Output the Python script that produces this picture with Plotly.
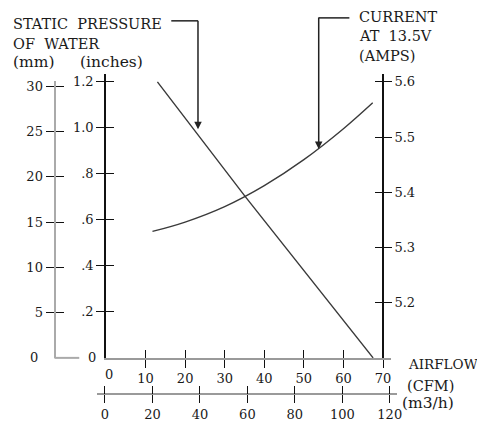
import plotly.graph_objects as go

# page body has an 8px default margin: the figure is drawn from (8, 8)
OFF = 8
WIN_W, WIN_H = 485, 422
W, H = WIN_W - OFF, WIN_H - OFF

# ---- data ----
cfm_ticks = [10, 20, 30, 40, 50, 60, 70]
m3h_ticks = [0, 20, 40, 60, 80, 100, 120]
inch_ticks = [0.2, 0.4, 0.6, 0.8, 1.0, 1.2]
inch_labels = [".2", ".4", ".6", ".8", "1.0", "1.2"]
mm_ticks = [5, 10, 15, 20, 25, 30]
amp_ticks = [5.2, 5.3, 5.4, 5.5, 5.6]

pressure_cfm = [13.0, 35.25, 67.5]
pressure_in = [1.2, 0.70, 0.0]

current_cfm = [11.75, 20.0, 30.0, 40.0, 50.0, 60.0, 67.4]
current_amps = [5.329, 5.346, 5.374, 5.412, 5.459, 5.515, 5.562]

FONT = "DejaVu Serif"
TXT = "#1a1a1a"
LINE = "#3a3a3a"


def fx(p):
    return (p - OFF) / W


def fy(p):
    return 1 - (p - OFF) / H


fig = go.Figure()

fig.add_trace(go.Scatter(x=pressure_cfm, y=pressure_in, mode="lines",
                         line=dict(color=LINE, width=1.4),
                         xaxis="x", yaxis="y", hoverinfo="skip", showlegend=False))
fig.add_trace(go.Scatter(x=current_cfm, y=current_amps, mode="lines",
                         line=dict(color=LINE, width=1.4, shape="spline",
                                   smoothing=1.0),
                         xaxis="x", yaxis="y3", hoverinfo="skip", showlegend=False))
# empty traces so the helper axes (inner tick arms) are drawn
for xa, ya in [("x2", "y2"), ("x2", "y4"), ("x3", "y5"), ("x4", "y6")]:
    fig.add_trace(go.Scatter(x=[], y=[], xaxis=xa, yaxis=ya, hoverinfo="skip",
                             showlegend=False))

tick_common = dict(showgrid=False, zeroline=False, fixedrange=True, ticklen=8,
                   tickwidth=1.3, tickcolor="#111111", tickmode="array",
                   tickfont=dict(family=FONT, size=13, color=TXT))

x_dom = [fx(107), fx(395)]
y_dom = [fy(361), fy(73)]
x_rng = [0, 72]
y_rng = [0, 1.234]
a_rng = [5.1, 5.614]
m3_dom = [fx(98), fx(401)]
m3_rng = [-3.34, 123.0]
mm_dom = [fy(361), fy(80)]
mm_rng = [0, 30.59]

layout = dict(
    width=W, height=H, margin=dict(l=0, r=0, t=0, b=0),
    paper_bgcolor="white", plot_bgcolor="rgba(0,0,0,0)", showlegend=False,
    xaxis=dict(tick_common, domain=x_dom, range=x_rng, anchor="y",
               tickvals=cfm_ticks, ticks="outside", showline=True,
               linecolor="#9a9a9a", linewidth=1.6),
    xaxis2=dict(tick_common, overlaying="x", range=x_rng, anchor="y",
                tickvals=cfm_ticks, ticks="inside", showticklabels=False,
                showline=False),
    xaxis3=dict(tick_common, domain=m3_dom, range=m3_rng, anchor="free",
                position=fy(398), tickvals=m3h_ticks, ticks="outside",
                showline=True, linecolor="#9a9a9a", linewidth=1.6),
    xaxis4=dict(tick_common, overlaying="x3", range=m3_rng, anchor="free",
                position=fy(398), tickvals=m3h_ticks, ticks="inside",
                showticklabels=False, showline=False),
    yaxis=dict(tick_common, domain=y_dom, range=y_rng, anchor="x",
               tickvals=inch_ticks, ticktext=inch_labels, ticks="outside",
               showline=True, linecolor="#111111", linewidth=1.5),
    yaxis2=dict(tick_common, overlaying="y", range=y_rng, anchor="x",
                tickvals=inch_ticks, ticks="inside", showticklabels=False,
                showline=False),
    yaxis3=dict(tick_common, overlaying="y", side="right", range=a_rng,
                anchor="free", position=fx(387), tickvals=amp_ticks,
                ticks="outside", showline=True, linecolor="#111111",
                linewidth=1.5),
    yaxis4=dict(tick_common, overlaying="y", side="right", range=a_rng,
                anchor="free", position=fx(387), tickvals=amp_ticks,
                ticks="inside", showticklabels=False, showline=False),
    yaxis5=dict(tick_common, domain=mm_dom, range=mm_rng, anchor="free",
                position=fx(55), side="left", tickvals=mm_ticks,
                ticks="outside", showline=True, linecolor="#aaaaaa",
                linewidth=2),
    yaxis6=dict(tick_common, overlaying="y5", range=mm_rng, anchor="free",
                position=fx(55), side="left", tickvals=mm_ticks,
                ticks="inside", showticklabels=False, showline=False),
)
fig.update_layout(**layout)

tf = dict(family=FONT, size=14.5, color=TXT)
lf = dict(family=FONT, size=15.5, color=TXT)
af = dict(family=FONT, size=13.5, color=TXT)
nf = dict(family=FONT, size=13, color=TXT)
NB = "\u00a0"


def label(text, x, y, font=tf, xanchor="left"):
    fig.add_annotation(text=text, x=fx(x), y=fy(y), xref="paper", yref="paper",
                       xanchor=xanchor, yanchor="middle", showarrow=False,
                       font=font, borderpad=0)


label("STATIC" + NB + " PRESSURE", 12, 22)
label("OF" + NB + " WATER", 12, 42)
label("(mm)", 12, 61, lf)
label("(inches)", 80, 61, lf)
label("CURRENT", 362, 15)
label("AT" + NB + " 13.5V", 362, 34)
label("(AMPS)", 362, 55)
label("AIRFLOW", 411, 367, af)
label("(CFM)", 410, 390)
label("(m3/h)", 405, 407, lf)
# corner zero labels
label("0", 98, 361, nf, "right")
label("0", 39, 361, nf, "right")
label("0", 110, 378, nf, "center")

# leader lines with arrows
shape_line = dict(color="#222222", width=1.5)
fig.add_shape(type="line", xref="paper", yref="paper", x0=fx(173), y0=fy(19),
              x1=fx(200), y1=fy(19), line=shape_line)
fig.add_shape(type="line", xref="paper", yref="paper", x0=fx(322), y0=fy(16),
              x1=fx(353), y1=fy(16), line=shape_line)
fig.add_shape(type="line", xref="paper", yref="paper", x0=fx(55), y0=fy(361),
              x1=fx(80), y1=fy(361), line=dict(color="#aaaaaa", width=2))
fig.add_annotation(x=fx(200), y=fy(129), xref="paper", yref="paper", text="",
                   showarrow=True, ax=0, ay=-(129 - 19), axref="pixel",
                   ayref="pixel", arrowhead=2, arrowsize=1, arrowwidth=1.5,
                   arrowcolor="#222222")
fig.add_annotation(x=fx(322), y=fy(149), xref="paper", yref="paper", text="",
                   showarrow=True, ax=0, ay=-(149 - 16), axref="pixel",
                   ayref="pixel", arrowhead=2, arrowsize=1, arrowwidth=1.5,
                   arrowcolor="#222222")

fig.write_html("out.html")
